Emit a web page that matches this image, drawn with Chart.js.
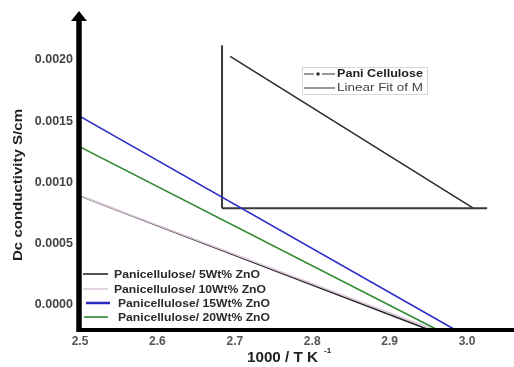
<!DOCTYPE html>
<html>
<head>
<meta charset="utf-8">
<script src="https://cdn.jsdelivr.net/npm/chart.js@4.4.0/dist/chart.umd.min.js"></script>
<style>
  html, body { margin: 0; padding: 0; background: #fff; }
  #wrap { width: 514px; height: 367px; }
</style>
</head>
<body>
<div id="wrap"><canvas id="c"></canvas></div>
<script>
// axis ticks
const xTicks = [2.5, 2.6, 2.7, 2.8, 2.9, 3.0];
const yTicks = [0.0000, 0.0005, 0.0010, 0.0015, 0.0020];

// main series (straight lines)
const seriesNames = [
    'Panicellulose/ 5Wt% ZnO',
    'Panicellulose/ 10Wt% ZnO',
    'Panicellulose/ 15Wt% ZnO',
    'Panicellulose/ 20Wt% ZnO'
];
const seriesColors = ['#262626', '#dcc8dc', '#2b2bc8', '#2f8a2f'];
const x5 = [2.5, 2.950];   const y5 = [0.00089, -0.0002];
const x10 = [2.5, 2.957];  const y10 = [0.00089, -0.0002];
const x15 = [2.5, 2.984];  const y15 = [0.00154, -0.0002];
const x20 = [2.5, 2.961];  const y20 = [0.00129, -0.0002];

// inset (drawn on the same scales)
const insetVX = [2.6835, 2.6835];  const insetVY = [0.00212, 0.00079];
const insetHX = [2.6835, 3.026];   const insetHY = [0.00079, 0.00079];
const fitX = [2.694, 3.008];       const fitY = [0.00203, 0.00079];
const insetLegend = ['Pani Cellulose', 'Linear Fit of M'];

const toPts = (xs, ys) => xs.map((x, i) => ({x: x, y: ys[i]}));

let mainSets = [[x5, y5], [x10, y10], [x15, y15], [x20, y20]];
let datasets = [];
// draw pink first so black sits over it like the original
[1, 0, 3, 2].forEach(i => {
    datasets.push({
        label: seriesNames[i],
        data: toPts(mainSets[i][0], mainSets[i][1]),
        borderColor: seriesColors[i],
        borderWidth: 1.6,
        showLine: true,
        pointRadius: 0
    });
});
datasets.push({label: 'insetV', data: toPts(insetVX, insetVY), borderColor: '#3a3a3a', borderWidth: 2, showLine: true, pointRadius: 0});
datasets.push({label: 'insetH', data: toPts(insetHX, insetHY), borderColor: '#3a3a3a', borderWidth: 2, showLine: true, pointRadius: 0});
datasets.push({label: 'fit', data: toPts(fitX, fitY), borderColor: '#2a2a2a', borderWidth: 1.5, showLine: true, pointRadius: 0});

const FONT = '"Liberation Sans", Arial, sans-serif';

// the original text is a bit stretched sideways, so squeeze/stretch to a width
const fitText = (ctx, text, x, y, width) => {
    const w = ctx.measureText(text).width;
    ctx.save();
    ctx.translate(x, y);
    ctx.scale(width / w, 1);
    ctx.fillText(text, 0, 0);
    ctx.restore();
};

const decorPlugin = {
    id: 'decor',
    afterDraw(chart) {
        const ctx = chart.ctx;
        const a = chart.chartArea;
        ctx.save();

        // axes
        ctx.strokeStyle = '#000';
        ctx.lineWidth = 4;
        ctx.beginPath();
        ctx.moveTo(a.left - 2, a.bottom);
        ctx.lineTo(a.right, a.bottom);
        ctx.stroke();
        ctx.lineWidth = 5.5;
        ctx.beginPath();
        ctx.moveTo(a.left - 1, a.bottom + 2);
        ctx.lineTo(a.left - 1, a.top + 2);
        ctx.stroke();
        // arrow head
        ctx.fillStyle = '#000';
        ctx.beginPath();
        ctx.moveTo(a.left - 1, a.top - 4);
        ctx.lineTo(a.left - 9, a.top + 6);
        ctx.lineTo(a.left + 7, a.top + 6);
        ctx.closePath();
        ctx.fill();

        // y title
        ctx.fillStyle = '#222';
        ctx.font = 'bold 13px ' + FONT;
        ctx.textAlign = 'center';
        ctx.textBaseline = 'middle';
        ctx.save();
        ctx.translate(18, 185);
        ctx.rotate(-Math.PI / 2);
        fitText(ctx, 'Dc conductivity S/cm', 0, 0, 152);
        ctx.restore();

        // x title with superscript
        ctx.textAlign = 'left';
        ctx.font = 'bold 15px ' + FONT;
        fitText(ctx, '1000 / T K', 247, 358, 71);
        ctx.font = 'bold 8px ' + FONT;
        ctx.fillText('-1', 324, 351);

        // main legend
        ctx.font = 'bold 11px ' + FONT;
        const rows = [274, 289, 303, 317];
        const lineX = [[83, 108], [83, 108], [86, 110], [84, 108]];
        const textX = [114, 114, 118, 118];
        const textW = [146, 152, 152, 152];
        for (let i = 0; i < 4; i++) {
            ctx.strokeStyle = seriesColors[i];
            ctx.lineWidth = i === 2 ? 2.5 : 1.6;
            ctx.beginPath();
            ctx.moveTo(lineX[i][0], rows[i]);
            ctx.lineTo(lineX[i][1], rows[i]);
            ctx.stroke();
            ctx.fillStyle = '#2a2a2a';
            fitText(ctx, seriesNames[i], textX[i], rows[i] + 1, textW[i]);
        }

        // inset legend
        ctx.strokeStyle = '#d8d8d8';
        ctx.lineWidth = 1;
        ctx.strokeRect(302.5, 67.5, 125, 27);
        ctx.strokeStyle = '#333';
        ctx.lineWidth = 1.2;
        ctx.beginPath();
        ctx.moveTo(304, 74); ctx.lineTo(314, 74);
        ctx.moveTo(322, 74); ctx.lineTo(335, 74);
        ctx.moveTo(304, 88); ctx.lineTo(335, 88);
        ctx.stroke();
        ctx.fillStyle = '#333';
        ctx.beginPath();
        ctx.arc(318, 74, 1.8, 0, Math.PI * 2);
        ctx.fill();
        ctx.font = 'bold 10px ' + FONT;
        ctx.fillStyle = '#222';
        fitText(ctx, insetLegend[0], 337, 74, 86);
        ctx.font = '10px ' + FONT;
        ctx.fillStyle = '#444';
        fitText(ctx, insetLegend[1], 337, 88, 86);

        ctx.restore();
    }
};

new Chart(document.getElementById('c').getContext('2d'), {
    type: 'scatter',
    data: { datasets: datasets },
    options: {
        responsive: true,
        maintainAspectRatio: false,
        animation: false,
        layout: { padding: { top: 15, right: 0, left: 0, bottom: 0 } },
        plugins: { legend: { display: false }, tooltip: { enabled: false } },
        scales: {
            x: {
                type: 'linear',
                min: 2.5,
                max: 3.0607,
                grid: { display: false, drawTicks: false },
                border: { display: false },
                afterBuildTicks: (axis) => { axis.ticks = xTicks.map(v => ({value: v})); },
                afterFit: (axis) => { axis.height = 37; },
                ticks: {
                    padding: 4,
                    maxRotation: 0,
                    color: '#555',
                    font: { family: FONT, size: 12, weight: 'bold' },
                    callback: (v) => v.toFixed(1)
                }
            },
            y: {
                type: 'linear',
                min: -0.000204,
                max: 0.002367,
                grid: { display: false, drawTicks: false },
                border: { display: false },
                afterBuildTicks: (axis) => { axis.ticks = yTicks.map(v => ({value: v})); },
                afterFit: (axis) => { axis.width = 80; },
                ticks: {
                    padding: 7,
                    color: '#444',
                    font: { family: FONT, size: 12.5, weight: 'bold' },
                    callback: (v) => v.toFixed(4)
                }
            }
        }
    },
    plugins: [decorPlugin]
});
</script>
</body>
</html>
